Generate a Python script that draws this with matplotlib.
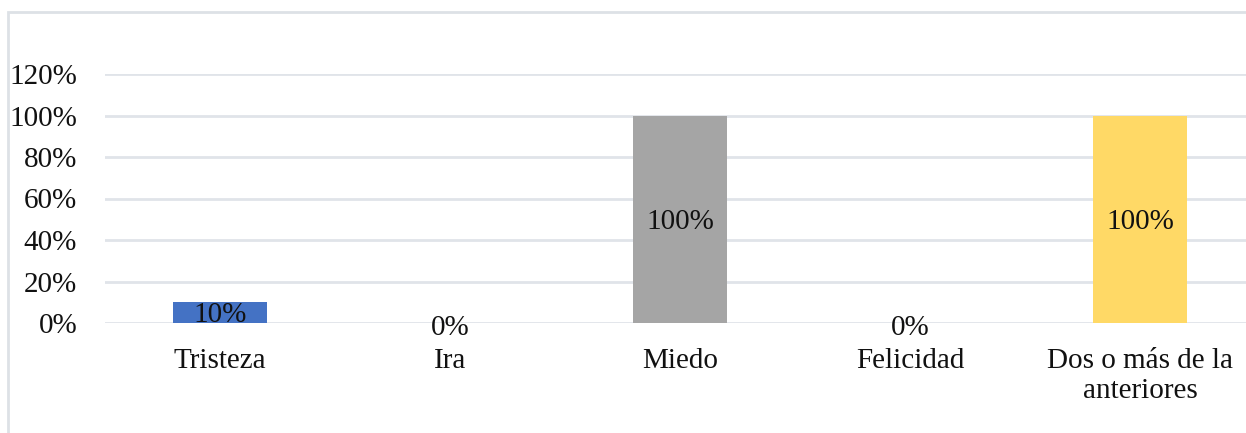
import matplotlib
matplotlib.use('Agg')
import matplotlib.pyplot as plt
from matplotlib.patches import Rectangle
from matplotlib.ticker import FuncFormatter

# ----------------------------
# Datos
# ----------------------------
categorias = ['Tristeza', 'Ira', 'Miedo', 'Felicidad', 'Dos o más de la\nanteriores']
valores = [0.10, 0.0, 1.0, 0.0, 1.0]
etiquetas = ['10%', '0%', '100%', '0%', '100%']
colores = ['#4472C4', '#ED7D31', '#A5A5A5', '#FFC000', '#FFD966']
ticks_y = [0, 0.2, 0.4, 0.6, 0.8, 1.0, 1.2]

plt.rcParams['font.family'] = ['Liberation Serif', 'DejaVu Serif']
fs = 21

W, H = 1246, 433
fig = plt.figure(figsize=(W / 100, H / 100), dpi=100)

# area del grafico (en pixeles de la imagen)
izq, der, arriba, abajo = 105, W, 74, 323
ax = fig.add_axes([izq / W, (H - abajo) / H, (der - izq) / W, (abajo - arriba) / H])

ax.bar(range(len(categorias)), valores, width=0.405, color=colores, zorder=3)

# etiquetas centradas en cada barra
for i, (v, t) in enumerate(zip(valores, etiquetas)):
    y = v / 2 - 0.012 if v > 0 else -0.022
    ax.text(i, y, t, ha='center', va='center', fontsize=fs, color='#111111',
            zorder=4, clip_on=False)

ax.set_ylim(0, 1.2)
ax.set_xlim(-0.5, -0.5 + (der - izq) / 230)
ax.set_yticks(ticks_y)
ax.yaxis.set_major_formatter(FuncFormatter(lambda v, p: f'{v * 100:.0f}%'))
ax.set_xticks(range(len(categorias)))
ax.set_xticklabels(categorias)

ax.grid(axis='y', color='#E0E4E9', linewidth=2, zorder=0)
ax.tick_params(axis='both', length=0, labelsize=fs, colors='#111111')
ax.tick_params(axis='y', pad=20)
ax.tick_params(axis='x', pad=18)
for s in ax.spines.values():
    s.set_visible(False)

# borde del area del grafico
fig.patches.append(Rectangle((8 / W, -0.2), 2, (H - 12) / H + 0.2,
                             transform=fig.transFigure, fill=False,
                             edgecolor='#DDE1E6', linewidth=2))

fig.savefig('out.png', dpi=100)
